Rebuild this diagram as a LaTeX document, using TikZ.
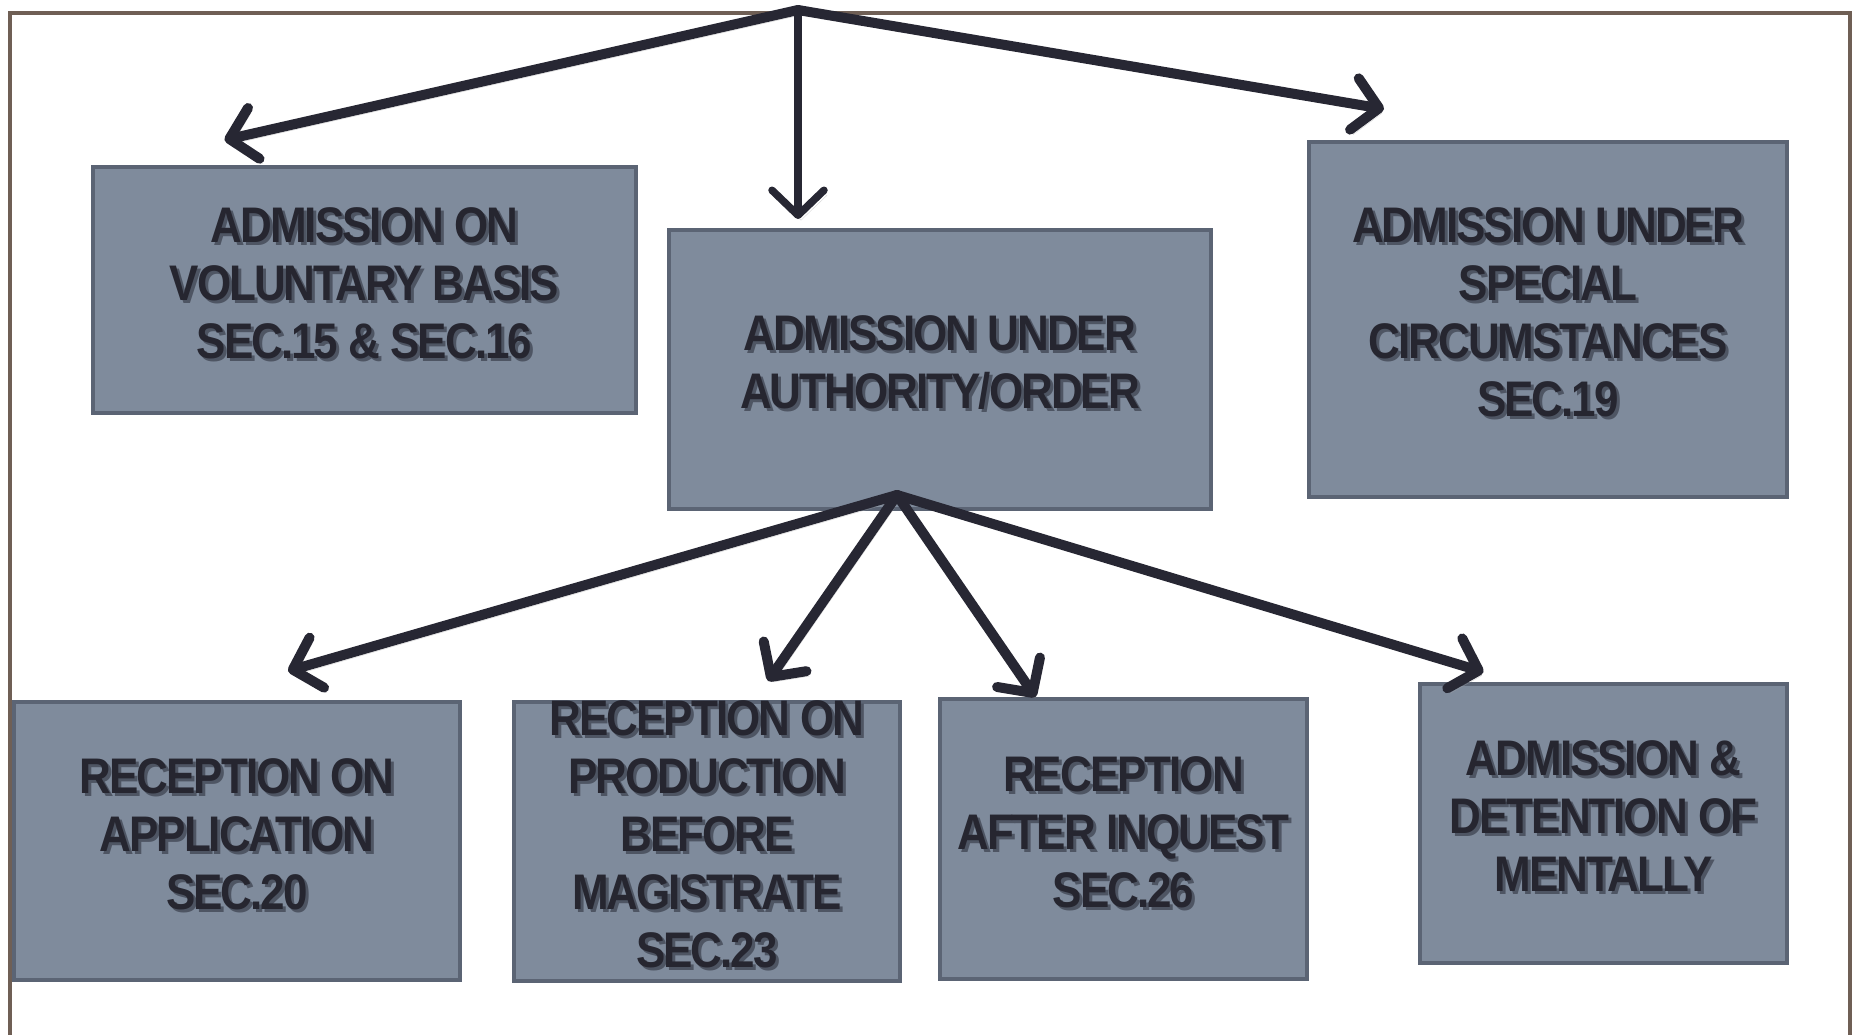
\documentclass[tikz,border=0pt]{standalone}
\usepackage{fontspec}
\newfontfamily\boxfont{Liberation Sans}[LetterSpace=-4, FakeStretch=0.88]
\usetikzlibrary{arrows.meta}
\definecolor{boxfill}{HTML}{7F8B9C}
\definecolor{boxedge}{HTML}{5B6474}
\definecolor{ink}{HTML}{262630}
\definecolor{arrowc}{HTML}{272733}
\definecolor{framec}{HTML}{6F5F55}
\definecolor{tshadow}{HTML}{4E5563}
\newcommand\shtext[1]{\leavevmode\rlap{\kern3pt\raisebox{-3pt}{\color{tshadow}\begin{tabular}{@{}c@{}}#1\end{tabular}}}\begin{tabular}{@{}c@{}}#1\end{tabular}}
\begin{document}
\begin{tikzpicture}[x=1pt,y=-1pt,
  box/.style={draw=boxedge, line width=4pt, fill=boxfill, inner sep=0pt, text=ink,
    font=\boxfont\bfseries\fontsize{50}{58}\selectfont},
  conn/.style={draw=arrowc, line width=10pt, line cap=round,
    -{Straight Barb[round, length=25pt, width=52pt]},
    preaction={draw=black!35, opacity=0.45, transform canvas={shift={(3pt,-5pt)}}}},
  vconn/.style={conn, line width=7.5pt}]
\useasboundingbox (0,0) rectangle (1858,1034);
\fill[white] (0,0) rectangle (1858,1034);
\draw[framec, line width=4pt] (10,1040) -- (10,13) -- (1850,13) -- (1850,1040);

\node[box, minimum width=543, minimum height=246] (b1) at (364.5,290)
  {\shtext{ADMISSION ON\\VOLUNTARY BASIS\\SEC.15 \& SEC.16}};
\node[box, minimum width=542, minimum height=279] (b2) at (940,369.5)
  {\shtext{ADMISSION UNDER\\AUTHORITY/ORDER}};
\node[box, minimum width=478, minimum height=355] (b3) at (1548,319.5)
  {\shtext{ADMISSION UNDER\\SPECIAL\\CIRCUMSTANCES\\SEC.19}};
\node[box, minimum width=446, minimum height=278] (b4) at (237,841)
  {\shtext{RECEPTION ON\\APPLICATION\\SEC.20}};
\node[box, minimum width=386, minimum height=279, inner ysep=-8pt] (b5) at (707,841.5)
  {\shtext{RECEPTION ON\\PRODUCTION\\BEFORE\\MAGISTRATE\\SEC.23}};
\node[box, minimum width=367, minimum height=280] (b6) at (1123.5,839)
  {\shtext{RECEPTION\\AFTER INQUEST\\SEC.26}};
\node[box, minimum width=367, minimum height=279] (b7) at (1603.5,823.5)
  {\shtext{ADMISSION \&\\DETENTION OF\\MENTALLY}};

\coordinate (apex1) at (798,10);
\coordinate (apex2) at ([shift={(-43,-16)}]b2.south);

\draw[conn] (apex1) -- ([shift={(-140,-25)}]b1.north);
\draw[vconn] (apex1) -- ([shift={(-142,-9)}]b2.north);
\draw[conn] (apex1) -- ([shift={(-164,-31)}]b3.north);

\draw[conn] (apex2) -- ([shift={(51,-29)}]b4.north);
\draw[conn] (apex2) -- ([shift={(61,-19)}]b5.north);
\draw[conn] (apex2) -- ([shift={(-88,0)}]b6.north);
\draw[conn] (apex2) -- ([shift={(-120,-10)}]b7.north);
\end{tikzpicture}
\end{document}
